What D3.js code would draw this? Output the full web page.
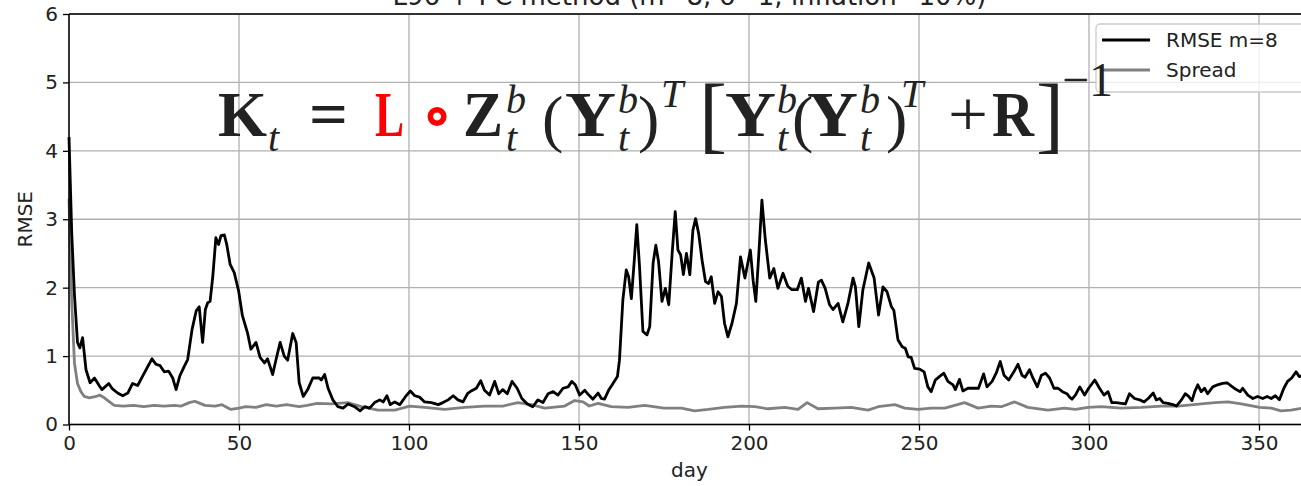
<!DOCTYPE html>
<html>
<head>
<meta charset="utf-8">
<script src="https://cdn.jsdelivr.net/npm/d3@7"></script>
<style>
  body { margin: 0; background: #fff; }
  svg { display: block; font-family: "DejaVu Sans", sans-serif; }
</style>
</head>
<body>
<svg id="chart" width="1301" height="486"></svg>
<script>
// values
const rmseDay = [0, 0.8, 1.6, 2.5, 3.2, 4, 5, 6.2, 7.5, 9, 9.7, 11.7, 12.8, 14.3, 15.8, 17.3, 18.7, 20.2, 21.7, 23.1,
  24.4, 25.6, 26.8, 28, 29.3, 30.5, 31.5, 32.6, 33.9, 34.9, 36.2, 37.4, 38.3, 39.3, 40.1, 40.8, 41.5, 42.3, 43.2, 44,
  44.7, 45.7, 46.4, 47.4, 48.6, 49.9, 51, 52.5, 53.5, 55, 56.2, 57.5, 58.4, 59.9, 60.9, 62.1, 63.3, 64.3, 65.8, 66.8,
  67.7, 68.9, 70.2, 71.7, 73.6, 74.2, 75.2, 76.2, 77.6, 79.1, 80.6, 82.1, 84, 85.6, 87, 88.4, 89.9, 91.4, 92.4, 93.5,
  94.5, 95.8, 97.3, 99, 100.4, 101.7, 103.1, 104.6, 106.6, 108.6, 110, 111.5, 113, 114.4, 115.9, 117.2, 118.3, 119.8, 121.1, 122.2,
  123.7, 125.2, 126.4, 127.6, 128.9, 130.3, 131.8, 133.2, 134.8, 136.4, 137.9, 139.4, 140.9, 142.4, 143.8, 145.3, 146.8, 147.9, 148.9, 150.2,
  151.7, 152.9, 154.1, 155.6, 156.6, 157.5, 158.7, 160, 161.3, 161.9, 162.9, 163.9, 164.6, 165.4, 166.2, 167, 167.8, 168.8, 170, 170.8,
  171.8, 172.6, 173.4, 174.4, 175.4, 176.4, 177.4, 178.3, 179.1, 179.9, 180.7, 181.6, 182.6, 183.5, 184.3, 185.2, 186.2, 187.2, 188.1, 188.9,
  189.9, 190.9, 191.9, 192.8, 193.8, 195, 196.3, 197.5, 198.8, 200.4, 201.2, 202, 202.9, 203.8, 204.8, 206.1, 207.3, 208.5, 210, 211.4,
  212.6, 214.2, 215.4, 216.6, 217.5, 219, 220.4, 221.3, 222.4, 223.7, 224.7, 226.2, 227.6, 229.1, 230.6, 231.3, 232.3, 233.5, 235.2, 236.8,
  238.1, 239.4, 240.6, 241.9, 242.6, 243.8, 245, 246, 246.8, 247.7, 248.7, 250.2, 251.5, 252.6, 253.6, 254.8, 256, 257.3, 258.5, 260,
  260.7, 261.9, 262.9, 264.4, 265.8, 267.5, 269, 270, 271.5, 272.7, 273.9, 275, 276.4, 277.9, 279.1, 280.3, 281.2, 282.5, 283.5, 284.8,
  286, 287.2, 288.4, 289.7, 290.9, 292.2, 293.5, 294.3, 295, 296, 297.3, 298.7, 299.9, 301.7, 303.1, 304.4, 305.6, 306.7, 308, 309.5,
  310.7, 311.9, 313.4, 314.9, 316.2, 317.4, 318.9, 319.8, 320.8, 321.8, 323.2, 324.7, 325.7, 327.2, 328.3, 329.3, 330.3, 331.1, 332, 333,
  334, 334.9, 336.4, 337.8, 339.3, 340.6, 341.9, 343.3, 344.5, 345.2, 346.7, 348.2, 349.6, 351.1, 352.4, 353.6, 354.8, 356, 357.3, 358.4,
  359.6, 360.9, 361.8, 363];
const rmseVal = [4.2, 2.8, 1.9, 1.2, 1.12, 1.27, 0.8, 0.61, 0.68, 0.56, 0.51, 0.6, 0.52, 0.46, 0.42, 0.46, 0.6, 0.57, 0.71, 0.84,
  0.96, 0.88, 0.86, 0.77, 0.78, 0.68, 0.51, 0.71, 0.85, 0.95, 1.39, 1.66, 1.72, 1.2, 1.68, 1.78, 1.8, 2.17, 2.73, 2.63,
  2.76, 2.77, 2.63, 2.34, 2.22, 1.95, 1.59, 1.34, 1.1, 1.2, 0.98, 0.9, 0.96, 0.73, 0.95, 1.2, 1.0, 0.94, 1.33, 1.2,
  0.61, 0.41, 0.51, 0.68, 0.68, 0.65, 0.73, 0.53, 0.36, 0.26, 0.24, 0.3, 0.26, 0.2, 0.26, 0.24, 0.32, 0.36, 0.33, 0.42,
  0.29, 0.33, 0.29, 0.41, 0.49, 0.42, 0.4, 0.33, 0.32, 0.29, 0.32, 0.36, 0.42, 0.36, 0.33, 0.45, 0.49, 0.53, 0.64, 0.5,
  0.43, 0.63, 0.45, 0.51, 0.45, 0.63, 0.53, 0.38, 0.3, 0.26, 0.36, 0.32, 0.45, 0.48, 0.43, 0.53, 0.55, 0.63, 0.58, 0.43,
  0.5, 0.43, 0.37, 0.46, 0.38, 0.37, 0.5, 0.6, 0.7, 0.94, 1.82, 2.26, 2.16, 1.84, 2.36, 2.92, 2.31, 1.36, 1.31, 1.43,
  2.36, 2.62, 2.38, 1.8, 1.99, 1.75, 2.5, 3.11, 2.55, 2.48, 2.19, 2.5, 2.19, 2.84, 3.01, 2.79, 2.4, 2.09, 2.06, 2.16,
  1.77, 1.94, 1.87, 1.48, 1.28, 1.48, 1.77, 2.45, 2.14, 2.55, 2.11, 1.8, 2.5, 3.28, 2.7, 2.14, 2.28, 1.99, 2.21, 2.02,
  1.97, 1.97, 2.14, 1.8, 1.99, 1.65, 2.08, 2.11, 1.99, 1.75, 1.68, 1.77, 1.5, 1.77, 2.14, 2.01, 1.43, 1.97, 2.36, 2.14,
  1.6, 2.01, 1.94, 1.72, 1.67, 1.24, 1.14, 1.11, 0.99, 0.98, 0.82, 0.81, 0.77, 0.55, 0.48, 0.65, 0.7, 0.75, 0.63, 0.58,
  0.51, 0.66, 0.49, 0.53, 0.53, 0.53, 0.74, 0.55, 0.63, 0.75, 0.92, 0.72, 0.65, 0.77, 0.88, 0.72, 0.69, 0.8, 0.68, 0.55,
  0.72, 0.75, 0.68, 0.53, 0.53, 0.48, 0.45, 0.4, 0.37, 0.43, 0.55, 0.43, 0.53, 0.65, 0.53, 0.43, 0.48, 0.32, 0.32, 0.31,
  0.3, 0.45, 0.38, 0.36, 0.33, 0.38, 0.46, 0.36, 0.38, 0.32, 0.31, 0.29, 0.27, 0.36, 0.45, 0.41, 0.35, 0.48, 0.58, 0.48,
  0.53, 0.45, 0.55, 0.58, 0.6, 0.61, 0.56, 0.51, 0.48, 0.53, 0.43, 0.38, 0.41, 0.38, 0.41, 0.38, 0.42, 0.36, 0.53, 0.63,
  0.68, 0.77, 0.7, 0.72];

const spreadDay = [0, 0.8, 1.6, 2.5, 3.5, 4.5, 6, 8, 9, 10.4, 11.9, 13.3, 16, 19, 22, 25, 28, 31, 33, 35.4,
  37, 38, 40, 43, 45, 47.6, 50, 52, 55, 58, 61, 64, 67.7, 70, 73, 77.2, 82, 86, 90.9, 95.8,
  100.2, 104.6, 110.5, 116.4, 122.2, 127.6, 132, 136, 139.9, 145.8, 148.7, 151.2, 153, 155.6, 159.5, 164.4, 169.3, 175, 180.1, 184,
  188, 192.8, 197.8, 201.7, 205.6, 210.5, 214.4, 217.1, 220.3, 225.2, 230.1, 235, 238, 242.9, 245.8, 249.7, 253.6, 257.6, 263.4, 267.4,
  271.3, 274.2, 278.1, 282, 287.9, 292.8, 296, 299.7, 303.6, 309.5, 315.4, 321.3, 326.2, 333, 337, 340.9, 344.8, 350.2, 353.6, 356.5,
  359.4, 363];
const spreadVal = [3.3, 1.8, 0.9, 0.6, 0.48, 0.41, 0.39, 0.41, 0.43, 0.39, 0.33, 0.28, 0.27, 0.28, 0.26, 0.28, 0.27, 0.28, 0.27, 0.32,
  0.34, 0.32, 0.28, 0.27, 0.29, 0.22, 0.24, 0.26, 0.25, 0.29, 0.27, 0.29, 0.26, 0.28, 0.31, 0.3, 0.32, 0.26, 0.21, 0.21,
  0.27, 0.25, 0.22, 0.25, 0.27, 0.27, 0.32, 0.29, 0.24, 0.27, 0.35, 0.33, 0.27, 0.31, 0.26, 0.25, 0.28, 0.24, 0.24, 0.2,
  0.22, 0.25, 0.27, 0.26, 0.23, 0.25, 0.22, 0.32, 0.23, 0.24, 0.25, 0.21, 0.26, 0.29, 0.24, 0.22, 0.24, 0.24, 0.32, 0.24,
  0.27, 0.26, 0.33, 0.25, 0.21, 0.24, 0.22, 0.25, 0.26, 0.24, 0.25, 0.27, 0.27, 0.3, 0.32, 0.33, 0.3, 0.25, 0.24, 0.2,
  0.21, 0.24];

const xTicks = [0, 50, 100, 150, 200, 250, 300, 350];
const yTicks = [0, 1, 2, 3, 4, 5, 6];
const seriesNames = ["RMSE m=8", "Spread"];
const titleText = "L96 + PC method (m=8, \u03c3=1, inflation=10%)";

const svg = d3.select("#chart");
const margin = { left: 69, top: 14, right: 1310, bottom: 424.5 };

const x = d3.scaleLinear().domain([0, 365]).range([margin.left, margin.right]);
const y = d3.scaleLinear().domain([0, 6]).range([margin.bottom, margin.top]);

// grid
svg.append("g").selectAll("line").data(xTicks).join("line")
    .attr("x1", d => x(d)).attr("x2", d => x(d))
    .attr("y1", margin.top).attr("y2", margin.bottom)
    .attr("stroke", "#b0b0b0").attr("stroke-width", 1.3);
svg.append("g").selectAll("line").data(yTicks).join("line")
    .attr("x1", margin.left).attr("x2", margin.right)
    .attr("y1", d => y(d)).attr("y2", d => y(d))
    .attr("stroke", "#b0b0b0").attr("stroke-width", 1.3);

// series
const rmse = rmseDay.map((d, i) => ({ day: d, v: rmseVal[i] }));
const spread = spreadDay.map((d, i) => ({ day: d, v: spreadVal[i] }));
const line = d3.line().x(d => x(d.day)).y(d => y(d.v));

svg.append("path").datum(spread)
    .attr("fill", "none").attr("stroke", "#808080").attr("stroke-width", 2.8)
    .attr("stroke-linejoin", "round").attr("d", line);
svg.append("path").datum(rmse)
    .attr("fill", "none").attr("stroke", "#000").attr("stroke-width", 2.8)
    .attr("stroke-linejoin", "round").attr("d", line);

// axes
const xAxis = svg.append("g")
    .attr("transform", `translate(0,${margin.bottom})`)
    .call(d3.axisBottom(x).tickValues(xTicks).tickFormat(d3.format("d")).tickSize(6).tickPadding(5));
const yAxis = svg.append("g")
    .attr("transform", `translate(${margin.left},0)`)
    .call(d3.axisLeft(y).tickValues(yTicks).tickFormat(d3.format("d")).tickSize(6).tickPadding(5));
[xAxis, yAxis].forEach(a => {
    a.select(".domain").remove();
    a.selectAll("line").attr("stroke", "#000").attr("stroke-width", 1.3);
    a.selectAll("text").attr("font-size", 20).attr("fill", "#222")
        .attr("font-family", "DejaVu Sans");
});

// spines
svg.append("line").attr("x1", margin.left).attr("x2", margin.left)
    .attr("y1", margin.top).attr("y2", margin.bottom).attr("stroke", "#000").attr("stroke-width", 1.5);
svg.append("line").attr("x1", margin.left).attr("x2", margin.right)
    .attr("y1", margin.bottom).attr("y2", margin.bottom).attr("stroke", "#000").attr("stroke-width", 1.5);
svg.append("line").attr("x1", margin.left).attr("x2", margin.right)
    .attr("y1", margin.top).attr("y2", margin.top).attr("stroke", "#000").attr("stroke-width", 1.5);

// labels
svg.append("text").attr("x", (margin.left + margin.right) / 2).attr("y", 477)
    .attr("text-anchor", "middle").attr("font-size", 20).attr("fill", "#222").text("day");
svg.append("text").attr("transform", `translate(32,${(margin.top + margin.bottom) / 2}) rotate(-90)`)
    .attr("text-anchor", "middle").attr("font-size", 20).attr("fill", "#222").text("RMSE");
svg.append("text").attr("x", (margin.left + margin.right) / 2).attr("y", 5)
    .attr("text-anchor", "middle").attr("font-size", 26).attr("fill", "#222").text(titleText);

// legend
const legend = svg.append("g");
legend.append("rect").attr("x", 1096).attr("y", 24).attr("width", 210).attr("height", 68)
    .attr("rx", 4).attr("fill", "#fff").attr("fill-opacity", 0.8)
    .attr("stroke", "#ccc").attr("stroke-width", 1.3);
const legendColors = ["#000", "#808080"];
seriesNames.forEach((name, i) => {
    const ly = 40 + i * 30;
    legend.append("line").attr("x1", 1102).attr("x2", 1150).attr("y1", ly).attr("y2", ly)
        .attr("stroke", legendColors[i]).attr("stroke-width", 2.8);
    legend.append("text").attr("x", 1166).attr("y", ly + 7)
        .attr("font-size", 20).attr("fill", "#222").text(name);
});

// formula overlay: [glyph, left, baseline, size, weight, style, colour, width]
const serif = "'Liberation Serif', 'DejaVu Serif', serif";
const ink = "#222";
const pieces = [
    ["K", 218, 136, 64, "bold", "normal", ink, 49],
    ["t", 268, 151, 40, "normal", "italic", ink],
    ["=", 309, 136, 64, "bold", "normal", ink, 39],
    ["L", 375, 136, 64, "bold", "normal", "red", 29],
    ["\u2218", 421, 136, 62, "bold", "normal", "red"],
    ["Z", 463, 136, 64, "bold", "normal", ink, 40],
    ["b", 506, 113, 40, "normal", "italic", ink],
    ["t", 506, 151, 40, "normal", "italic", ink],
    ["(", 542, 140, 64, "normal", "normal", ink],
    ["Y", 565, 136, 64, "bold", "normal", ink, 51],
    ["b", 618, 113, 40, "normal", "italic", ink],
    ["t", 618, 151, 40, "normal", "italic", ink],
    [")", 638, 140, 64, "normal", "normal", ink],
    ["T", 661, 107, 40, "normal", "italic", ink],
    ["[", 699, 143, 84, "normal", "normal", ink],
    ["Y", 725, 136, 64, "bold", "normal", ink, 51],
    ["b", 777, 113, 40, "normal", "italic", ink],
    ["t", 777, 151, 40, "normal", "italic", ink],
    ["(", 792, 140, 64, "normal", "normal", ink],
    ["Y", 807, 136, 64, "bold", "normal", ink, 51],
    ["b", 860, 113, 40, "normal", "italic", ink],
    ["t", 860, 151, 40, "normal", "italic", ink],
    [")", 886, 140, 64, "normal", "normal", ink],
    ["T", 901, 107, 40, "normal", "italic", ink],
    ["+", 948, 136, 64, "normal", "normal", ink, 40],
    ["R", 992, 136, 64, "bold", "normal", ink, 42],
    ["]", 1036, 143, 84, "normal", "normal", ink],
    ["\u22121", 1062, 96, 48, "normal", "normal", ink]
];
const formula = svg.append("g").attr("font-family", serif);
pieces.forEach(([t, px, py, fs, fw, fst, col, w]) => {
    const txt = formula.append("text").attr("x", px).attr("y", py)
        .attr("font-size", fs).attr("font-weight", fw).attr("font-style", fst)
        .attr("fill", col).text(t);
    if (w) txt.attr("textLength", w).attr("lengthAdjust", "spacingAndGlyphs");
});
</script>
</body>
</html>
